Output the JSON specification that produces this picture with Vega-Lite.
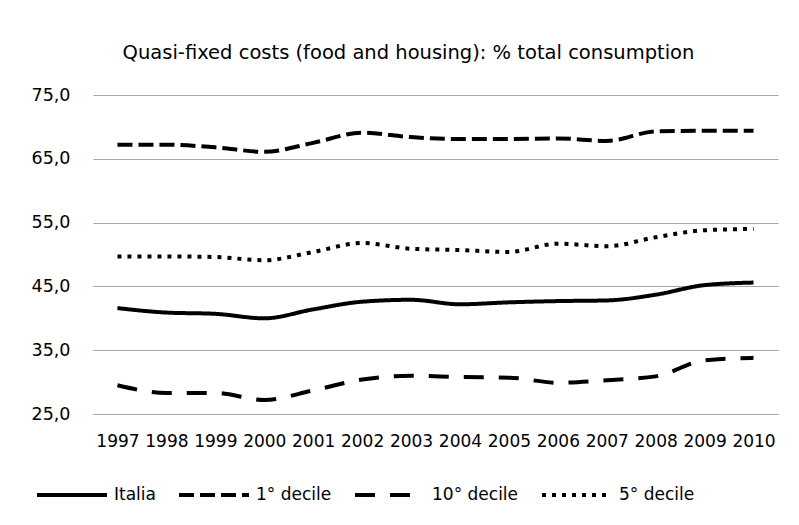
{
  "$schema": "https://vega.github.io/schema/vega-lite/v6.json",
  "autosize": {"type": "none"},
  "padding": {"left": 93, "top": 95, "right": 21, "bottom": 111},
  "width": 685,
  "height": 319,
  "background": "white",
  "title": {
    "text": "Quasi-fixed costs (food and housing): % total consumption",
    "font": "DejaVu Sans",
    "fontSize": 19.5,
    "fontWeight": "normal",
    "color": "#000000",
    "anchor": "middle",
    "dx": -27,
    "offset": 23
  },
  "data": {
    "values": [
      {"year": "1997", "series": "Italia", "value": 41.6},
      {"year": "1998", "series": "Italia", "value": 40.9},
      {"year": "1999", "series": "Italia", "value": 40.7},
      {"year": "2000", "series": "Italia", "value": 40.0},
      {"year": "2001", "series": "Italia", "value": 41.4},
      {"year": "2002", "series": "Italia", "value": 42.6},
      {"year": "2003", "series": "Italia", "value": 42.9},
      {"year": "2004", "series": "Italia", "value": 42.2},
      {"year": "2005", "series": "Italia", "value": 42.5},
      {"year": "2006", "series": "Italia", "value": 42.7},
      {"year": "2007", "series": "Italia", "value": 42.8},
      {"year": "2008", "series": "Italia", "value": 43.7},
      {"year": "2009", "series": "Italia", "value": 45.2},
      {"year": "2010", "series": "Italia", "value": 45.6},
      {"year": "1997", "series": "1° decile", "value": 67.2},
      {"year": "1998", "series": "1° decile", "value": 67.2},
      {"year": "1999", "series": "1° decile", "value": 66.8},
      {"year": "2000", "series": "1° decile", "value": 66.1},
      {"year": "2001", "series": "1° decile", "value": 67.5},
      {"year": "2002", "series": "1° decile", "value": 69.1},
      {"year": "2003", "series": "1° decile", "value": 68.4},
      {"year": "2004", "series": "1° decile", "value": 68.1},
      {"year": "2005", "series": "1° decile", "value": 68.1},
      {"year": "2006", "series": "1° decile", "value": 68.2},
      {"year": "2007", "series": "1° decile", "value": 67.8},
      {"year": "2008", "series": "1° decile", "value": 69.3},
      {"year": "2009", "series": "1° decile", "value": 69.4},
      {"year": "2010", "series": "1° decile", "value": 69.4},
      {"year": "1997", "series": "10° decile", "value": 29.5},
      {"year": "1998", "series": "10° decile", "value": 28.3},
      {"year": "1999", "series": "10° decile", "value": 28.3},
      {"year": "2000", "series": "10° decile", "value": 27.2},
      {"year": "2001", "series": "10° decile", "value": 28.7},
      {"year": "2002", "series": "10° decile", "value": 30.4},
      {"year": "2003", "series": "10° decile", "value": 31.0},
      {"year": "2004", "series": "10° decile", "value": 30.8},
      {"year": "2005", "series": "10° decile", "value": 30.7},
      {"year": "2006", "series": "10° decile", "value": 29.9},
      {"year": "2007", "series": "10° decile", "value": 30.3},
      {"year": "2008", "series": "10° decile", "value": 30.9},
      {"year": "2009", "series": "10° decile", "value": 33.4},
      {"year": "2010", "series": "10° decile", "value": 33.8},
      {"year": "1997", "series": "5° decile", "value": 49.7},
      {"year": "1998", "series": "5° decile", "value": 49.7},
      {"year": "1999", "series": "5° decile", "value": 49.6},
      {"year": "2000", "series": "5° decile", "value": 49.1},
      {"year": "2001", "series": "5° decile", "value": 50.4},
      {"year": "2002", "series": "5° decile", "value": 51.8},
      {"year": "2003", "series": "5° decile", "value": 50.9},
      {"year": "2004", "series": "5° decile", "value": 50.7},
      {"year": "2005", "series": "5° decile", "value": 50.4},
      {"year": "2006", "series": "5° decile", "value": 51.7},
      {"year": "2007", "series": "5° decile", "value": 51.3},
      {"year": "2008", "series": "5° decile", "value": 52.7},
      {"year": "2009", "series": "5° decile", "value": 53.8},
      {"year": "2010", "series": "5° decile", "value": 54.0}
    ]
  },
  "mark": {"type": "line", "interpolate": "monotone", "strokeWidth": 4, "color": "#000000", "strokeCap": "butt"},
  "encoding": {
    "x": {
      "field": "year",
      "type": "ordinal",
      "scale": {"type": "point", "padding": 0.5},
      "axis": {
        "title": null,
        "labelAngle": 0,
        "labelFont": "DejaVu Sans",
        "labelFontSize": 17,
        "labelColor": "#000000",
        "labelPadding": 19,
        "ticks": false,
        "domain": false,
        "grid": false
      }
    },
    "y": {
      "field": "value",
      "type": "quantitative",
      "scale": {"domain": [25, 75], "nice": false, "zero": false},
      "axis": {
        "title": null,
        "values": [25, 35, 45, 55, 65, 75],
        "labelExpr": "replace(format(datum.value, '.1f'), '.', ',')",
        "labelFont": "DejaVu Sans",
        "labelFontSize": 17.5,
        "labelColor": "#000000",
        "labelPadding": 23,
        "ticks": false,
        "domain": false,
        "grid": true,
        "gridColor": "#a6a6a6",
        "gridWidth": 1.2
      }
    },
    "strokeDash": {
      "field": "series",
      "type": "nominal",
      "scale": {
        "domain": ["Italia", "1° decile", "10° decile", "5° decile"],
        "range": [[1, 0], [15, 6], [20, 15], [4, 6]]
      },
      "legend": {
        "title": null,
        "orient": "none",
        "direction": "horizontal",
        "legendX": -58,
        "legendY": 363,
        "symbolType": "stroke",
        "symbolSize": 4900,
        "symbolStrokeWidth": 4,
        "symbolStrokeColor": "#000000",
        "labelFont": "DejaVu Sans",
        "labelFontSize": 17,
        "labelColor": "#000000",
        "labelOffset": 5,
        "columnPadding": 15
      }
    }
  },
  "config": {
    "view": {"stroke": null}
  }
}
